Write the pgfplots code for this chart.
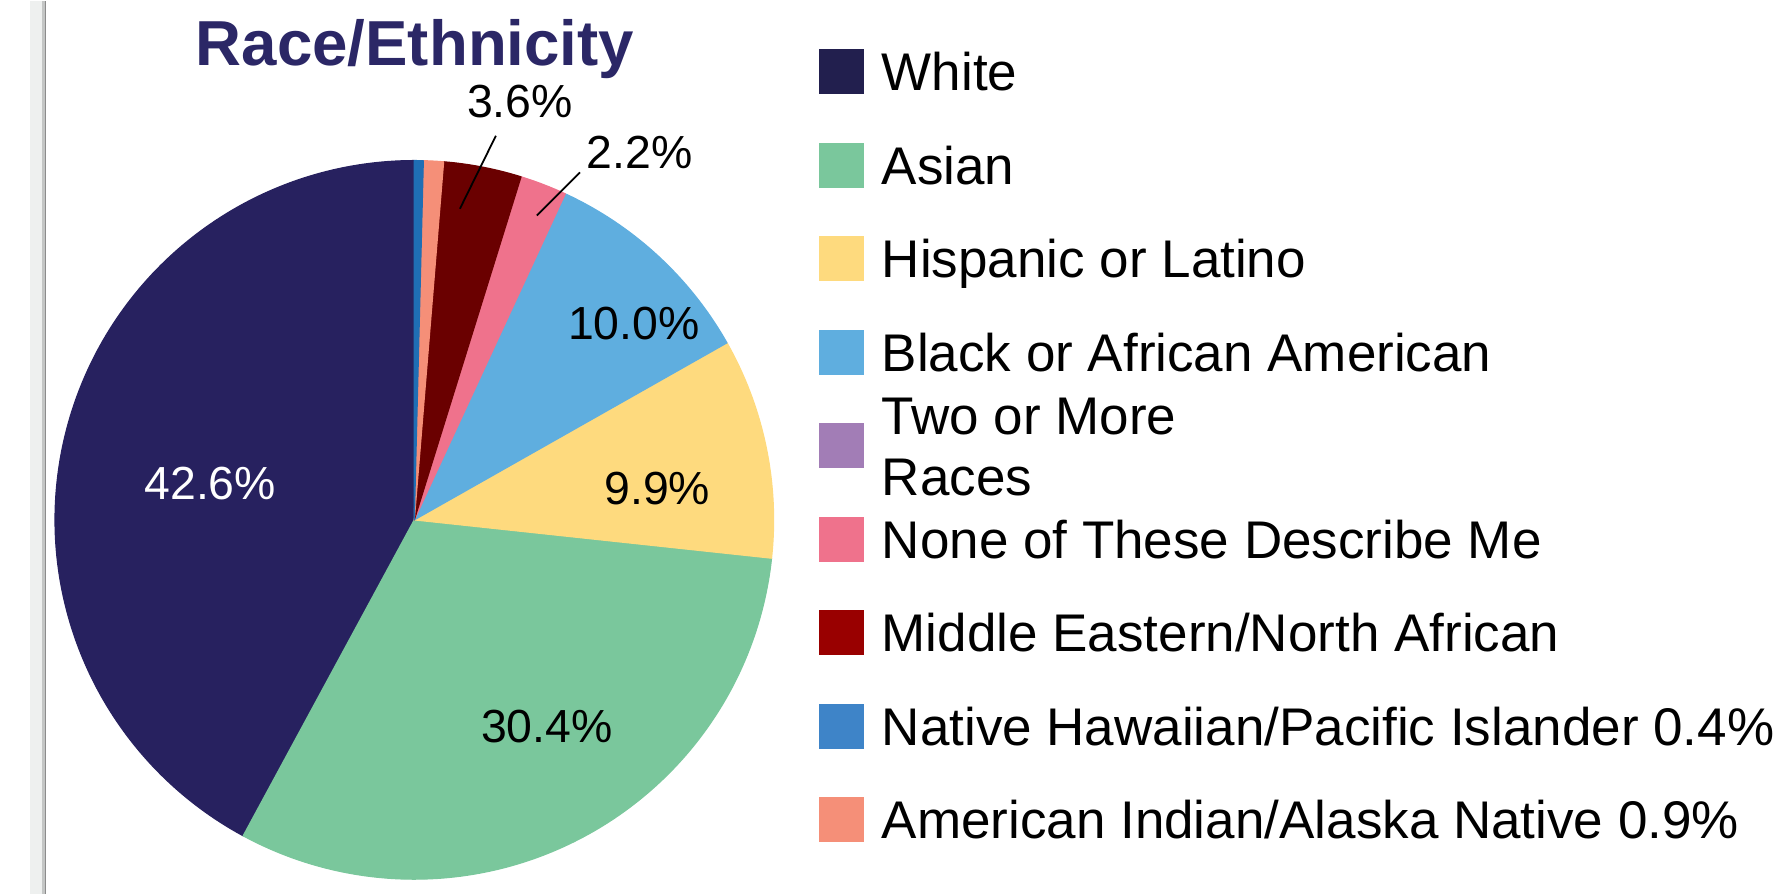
\documentclass[border=0pt]{standalone}
\usepackage{pgfplots}
\pgfplotsset{compat=1.18}
\usepackage{fontspec}
\setmainfont{Liberation Sans}
\definecolor{cWhite}{HTML}{27215F}
\definecolor{cWhiteL}{HTML}{221F4E}
\definecolor{cAsian}{HTML}{7AC79C}
\definecolor{cHisp}{HTML}{FEDA7E}
\definecolor{cBlack}{HTML}{5FAEDF}
\definecolor{cTwo}{HTML}{A27DB6}
\definecolor{cNone}{HTML}{EF728C}
\definecolor{cME}{HTML}{6A0000}
\definecolor{cMEL}{HTML}{990000}
\definecolor{cNH}{HTML}{1F6EB4}
\definecolor{cNHL}{HTML}{3E84C8}
\definecolor{cAI}{HTML}{F58F78}
\definecolor{cTitle}{HTML}{2B2766}
\definecolor{cBand}{HTML}{EEF0EF}
\definecolor{cBandD}{HTML}{C4C6C5}
% slice shares (percent), as drawn in the reference
\def\pW{42.1}\def\pA{31.2}\def\pH{9.9}\def\pB{9.9}\def\pT{0}
\def\pN{2.1}\def\pM{3.5}\def\pI{0.9}\def\pP{0.4}
\newcommand\lfont{\fontsize{13.25}{15.4}\selectfont}
\newcommand\pfont{\fontsize{11.6}{13.5}\selectfont}
\begin{document}
\begin{tikzpicture}[x=0.25pt,y=0.25pt]
\path (0,0) rectangle (1788,893);
\fill[cBand] (30,0) rectangle (42,893);
\fill[cBandD] (42,0) rectangle (46,893);
\draw[color=black!45, line width=0.3pt] (45.6,0) -- (45.6,893);
\begin{axis}[
  at={(103.575pt,93.425pt)}, anchor=center,
  width=179.65pt, height=179.65pt, scale only axis,
  xmin=-1, xmax=1, ymin=-1, ymax=1,
  hide axis, clip=false,
  every axis plot/.append style={line width=0.3pt, line join=round},
]
\addplot[fill=cWhite, draw=cWhite, domain=90:90+3.6*\pW, samples=150, variable=\t]
  ({cos(\t)},{sin(\t)}) -- (axis cs:0,0) -- cycle;
\addplot[fill=cAsian, draw=cAsian, domain=90+3.6*\pW:90+3.6*(\pW+\pA), samples=120, variable=\t]
  ({cos(\t)},{sin(\t)}) -- (axis cs:0,0) -- cycle;
\addplot[fill=cHisp, draw=cHisp, domain=90+3.6*(\pW+\pA):90+3.6*(\pW+\pA+\pH), samples=60, variable=\t]
  ({cos(\t)},{sin(\t)}) -- (axis cs:0,0) -- cycle;
\addplot[fill=cBlack, draw=cBlack, domain=90+3.6*(\pW+\pA+\pH):90+3.6*(\pW+\pA+\pH+\pB), samples=60, variable=\t]
  ({cos(\t)},{sin(\t)}) -- (axis cs:0,0) -- cycle;
\addplot[fill=cNone, draw=cNone, domain=90+3.6*(\pW+\pA+\pH+\pB+\pT):90+3.6*(\pW+\pA+\pH+\pB+\pT+\pN), samples=30, variable=\t]
  ({cos(\t)},{sin(\t)}) -- (axis cs:0,0) -- cycle;
\addplot[fill=cME, draw=cME, domain=90+3.6*(\pW+\pA+\pH+\pB+\pT+\pN):90+3.6*(\pW+\pA+\pH+\pB+\pT+\pN+\pM), samples=30, variable=\t]
  ({cos(\t)},{sin(\t)}) -- (axis cs:0,0) -- cycle;
\addplot[fill=cAI, draw=cAI, domain=90+3.6*(\pW+\pA+\pH+\pB+\pT+\pN+\pM):90+3.6*(\pW+\pA+\pH+\pB+\pT+\pN+\pM+\pI), samples=10, variable=\t]
  ({cos(\t)},{sin(\t)}) -- (axis cs:0,0) -- cycle;
\addplot[fill=cNH, draw=cNH, domain=90+3.6*(\pW+\pA+\pH+\pB+\pT+\pN+\pM+\pI):90+3.6*(\pW+\pA+\pH+\pB+\pT+\pN+\pM+\pI+\pP), samples=6, variable=\t]
  ({cos(\t)},{sin(\t)}) -- (axis cs:0,0) -- cycle;
% data labels
\node[font=\pfont, text=white, inner sep=0] at (axis cs:-0.568,0.101) {42.6\%};
\node[font=\pfont, inner sep=0] at (axis cs:0.369,-0.575) {30.4\%};
\node[font=\pfont, inner sep=0] at (axis cs:0.676,0.087) {9.9\%};
\node[font=\pfont, inner sep=0] at (axis cs:0.611,0.546) {10.0\%};
\node[font=\pfont, inner sep=0] at (axis cs:0.294,1.163) {3.6\%};
\node[font=\pfont, inner sep=0] at (axis cs:0.627,1.024) {2.2\%};
\draw[black, line width=0.45pt] (axis cs:0.227,1.069) -- (axis cs:0.127,0.866);
\draw[black, line width=0.45pt] (axis cs:0.461,0.967) -- (axis cs:0.341,0.847);
\end{axis}
% title
\node[anchor=base, inner sep=0, text=cTitle, font=\fontsize{15.9}{18}\selectfont\bfseries] at (415,828) {Race/Ethnicity};
% legend
\fill[cWhiteL] (819,799.5) rectangle (864,844.5);
\node[anchor=base west, inner sep=0, font=\lfont] at (881,803) {White};
\fill[cAsian] (819,706) rectangle (864,751);
\node[anchor=base west, inner sep=0, font=\lfont] at (881,709.5) {Asian};
\fill[cHisp] (819,612.5) rectangle (864,657.5);
\node[anchor=base west, inner sep=0, font=\lfont] at (881,616) {Hispanic or Latino};
\fill[cBlack] (819,519) rectangle (864,564);
\node[anchor=base west, inner sep=0, font=\lfont] at (881,522.5) {Black or African American};
\fill[cTwo] (819,425.5) rectangle (864,470.5);
\node[anchor=base west, inner sep=0, font=\lfont] at (881,459.5) {Two or More};
\node[anchor=base west, inner sep=0, font=\lfont] at (881,398) {Races};
\fill[cNone] (819,332) rectangle (864,377);
\node[anchor=base west, inner sep=0, font=\lfont] at (881,335.5) {None of These Describe Me};
\fill[cMEL] (819,238.5) rectangle (864,283.5);
\node[anchor=base west, inner sep=0, font=\lfont] at (881,242) {Middle Eastern/North African};
\fill[cNHL] (819,145) rectangle (864,190);
\node[anchor=base west, inner sep=0, font=\lfont] at (881,148.5) {Native Hawaiian/Pacific Islander 0.4\%};
\fill[cAI] (819,51.5) rectangle (864,96.5);
\node[anchor=base west, inner sep=0, font=\lfont] at (881,55) {American Indian/Alaska Native 0.9\%};
\end{tikzpicture}
\end{document}
